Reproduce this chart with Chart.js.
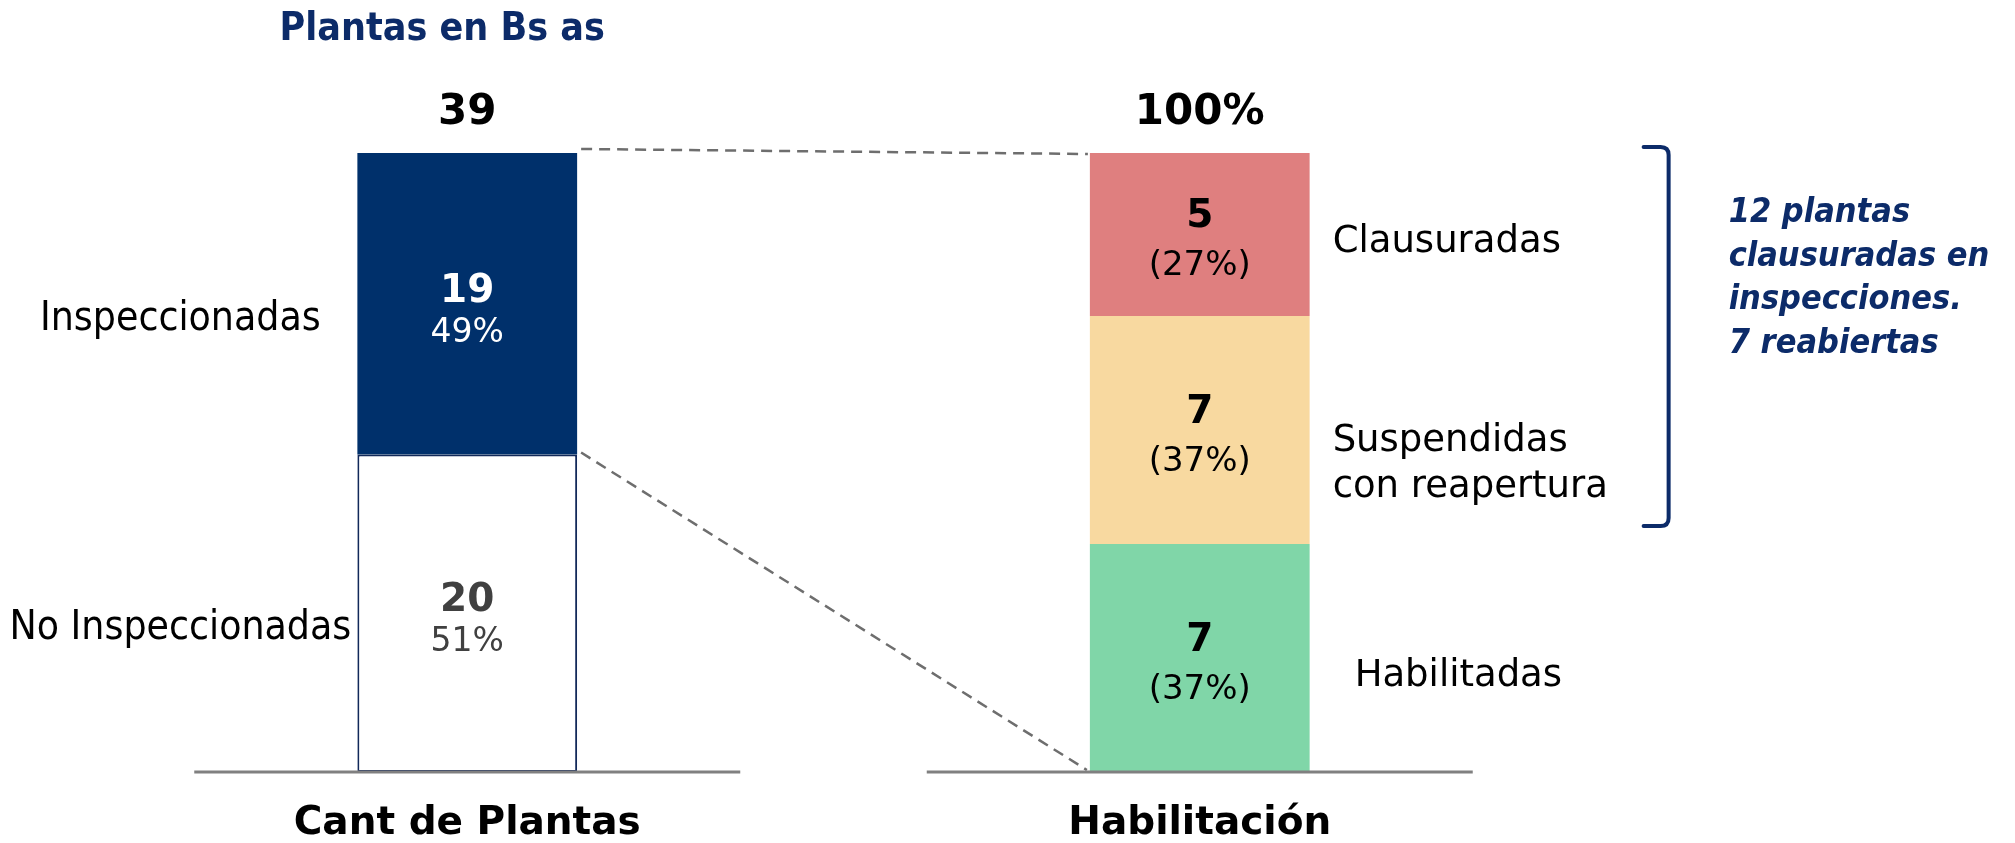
<!DOCTYPE html>
<html lang="es">
<head>
<meta charset="utf-8">
<title>Plantas en Bs as</title>
<script src="https://cdn.jsdelivr.net/npm/chart.js@4"></script>
<style>
  html, body { margin: 0; padding: 0; background: #fff; }
  #wrap { width: 2015px; height: 843px; position: relative; }
</style>
</head>
<body>
<div id="wrap"><canvas id="plantsChart"></canvas></div>
<script>
const categories = ['Cant de Plantas', 'Habilitación'];
const totalLabels = ['39', '100%'];
const chartTitle = 'Plantas en Bs as';

// left column, bottom to top
const plantStatus = ['No Inspeccionadas', 'Inspeccionadas'];
const plantCounts = [20, 19];
const plantPct = ['51%', '49%'];

// right column, bottom to top
const habStatus = [['Habilitadas'], ['Suspendidas', 'con reapertura'], ['Clausuradas']];
const habCounts = [7, 7, 5];
const habPct = ['(37%)', '(37%)', '(27%)'];

const noteLines = ['12 plantas', 'clausuradas en', 'inspecciones.', '7 reabiertas'];

const NAVY = '#00306b';
const INK = '#0c2b69';
const FONT = '"DejaVu Sans", sans-serif';
const FONT_C = '"DejaVu Sans Condensed", "DejaVu Sans", sans-serif';

const plantColors = ['#ffffff', NAVY];
const plantText = ['#404040', '#ffffff'];
const habColors = ['#80d6a8', '#f8d9a0', '#df7f7f'];

const sum = arr => arr.reduce((a, b) => a + b, 0);

const datasets = [];
plantStatus.forEach((name, i) => {
    datasets.push({
        label: name,
        data: [plantCounts[i], null],
        yAxisID: 'y',
        backgroundColor: plantColors[i],
        borderColor: '#12295a',
        borderWidth: i === 0 ? 2 : 0,
        borderSkipped: false,
        pct: plantPct[i],
        textColor: plantText[i],
        side: plantStatus[i]
    });
});
habStatus.forEach((name, i) => {
    datasets.push({
        label: name.join(' '),
        data: [null, habCounts[i]],
        yAxisID: 'y2',
        backgroundColor: habColors[i],
        borderWidth: 0,
        pct: habPct[i],
        textColor: '#000000',
        side: name
    });
});

// everything drawn around the bars: labels, baselines, zoom lines, bracket, note
const decorPlugin = {
    id: 'decor',
    afterDatasetsDraw(chart) {
        const { ctx, chartArea } = chart;
        const bottom = chartArea.bottom;
        const xScale = chart.scales.x;

        ctx.save();

        // base lines under each column
        ctx.strokeStyle = '#808080';
        ctx.lineWidth = 3;
        categories.forEach((c, i) => {
            const xc = xScale.getPixelForValue(i);
            ctx.beginPath();
            ctx.moveTo(xc - 273, bottom);
            ctx.lineTo(xc + 273, bottom);
            ctx.stroke();
        });

        const inspEl = chart.getDatasetMeta(1).data[0];
        const topRight = chart.getDatasetMeta(4).data[1];
        const leftEdgeR = inspEl.x + inspEl.width / 2;
        const rightEdgeL = topRight.x - topRight.width / 2;

        // dashed zoom lines
        ctx.strokeStyle = '#6e6e6e';
        ctx.lineWidth = 2.5;
        ctx.setLineDash([11, 7]);
        ctx.beginPath();
        ctx.moveTo(leftEdgeR + 4, inspEl.y - 4);
        ctx.lineTo(rightEdgeL - 2, topRight.y + 1);
        ctx.moveTo(leftEdgeR + 4, inspEl.base - 2);
        ctx.lineTo(rightEdgeL - 3, bottom - 2);
        ctx.stroke();
        ctx.setLineDash([]);

        // values inside bars and names beside them
        ctx.textAlign = 'center';
        ctx.textBaseline = 'alphabetic';
        chart.data.datasets.forEach((ds, di) => {
            const meta = chart.getDatasetMeta(di);
            ds.data.forEach((v, i) => {
                if (v === null) return;
                const el = meta.data[i];
                const cy = (el.y + el.base) / 2;
                const left = i === 0;
                ctx.fillStyle = ds.textColor;
                ctx.font = 'bold 39px ' + FONT;
                ctx.fillText(String(v), el.x, cy + (left ? -2 : -7));
                ctx.font = (left ? '33px ' : '34px ') + FONT;
                ctx.fillText(ds.pct, el.x, cy + (left ? 38 : 41));

                ctx.fillStyle = '#000000';
                if (left) {
                    ctx.textAlign = 'center';
                    ctx.font = '40.5px ' + FONT_C;
                    ctx.fillText(ds.side, el.x - el.width / 2 - 177, cy + 26);
                } else {
                    const hIdx = di - plantStatus.length;
                    const dx = hIdx === 0 ? 45 : 23;
                    const dy = [28, 21, 18][hIdx];
                    ctx.textAlign = 'left';
                    ctx.font = '37px ' + FONT;
                    ds.side.forEach((line, k) => {
                        ctx.fillText(line, el.x + el.width / 2 + dx, cy + dy + k * 46);
                    });
                }
                ctx.textAlign = 'center';
            });
        });

        // totals above columns
        ctx.fillStyle = '#000000';
        ctx.font = 'bold 42px ' + FONT;
        categories.forEach((c, i) => {
            ctx.fillText(totalLabels[i], xScale.getPixelForValue(i), chartArea.top - 29);
        });

        // title
        ctx.fillStyle = INK;
        ctx.font = 'bold 39px ' + FONT_C;
        ctx.fillText(chartTitle, inspEl.x - 25, 40);

        // bracket over closed + suspended
        const suspEl = chart.getDatasetMeta(3).data[1];
        const bx = topRight.x + topRight.width / 2 + 359;
        const by0 = topRight.y - 6;
        const by1 = suspEl.base - 18;
        ctx.strokeStyle = INK;
        ctx.lineWidth = 4;
        ctx.lineCap = 'round';
        ctx.beginPath();
        ctx.moveTo(bx - 25, by0);
        ctx.lineTo(bx - 8, by0);
        ctx.quadraticCurveTo(bx, by0, bx, by0 + 8);
        ctx.lineTo(bx, by1 - 8);
        ctx.quadraticCurveTo(bx, by1, bx - 8, by1);
        ctx.lineTo(bx - 25, by1);
        ctx.stroke();

        // handwritten-style note
        ctx.fillStyle = INK;
        ctx.textAlign = 'left';
        ctx.font = 'italic bold 34px ' + FONT_C;
        noteLines.forEach((line, k) => {
            ctx.fillText(line, bx + 60, by0 + 75 + k * 43.5);
        });

        ctx.restore();
    }
};

new Chart(document.getElementById('plantsChart').getContext('2d'), {
    type: 'bar',
    data: { labels: categories, datasets: datasets },
    options: {
        responsive: true,
        maintainAspectRatio: false,
        animation: false,
        layout: { padding: { left: 101, right: 449, top: 153, bottom: 0 } },
        datasets: { bar: { categoryPercentage: 1, barPercentage: 0.3 } },
        plugins: {
            legend: { display: false },
            tooltip: { enabled: false }
        },
        scales: {
            x: {
                stacked: true,
                grid: { display: false, drawTicks: false },
                border: { display: false },
                afterFit(scale) { scale.height = 71; },
                ticks: {
                    color: '#000000',
                    padding: 32,
                    font: { family: FONT, size: 39, weight: 'bold', lineHeight: 1 }
                }
            },
            y: { stacked: true, display: false, min: 0, max: sum(plantCounts) },
            y2: { stacked: true, display: false, min: 0, max: sum(habCounts) }
        }
    },
    plugins: [decorPlugin]
});
</script>
</body>
</html>
